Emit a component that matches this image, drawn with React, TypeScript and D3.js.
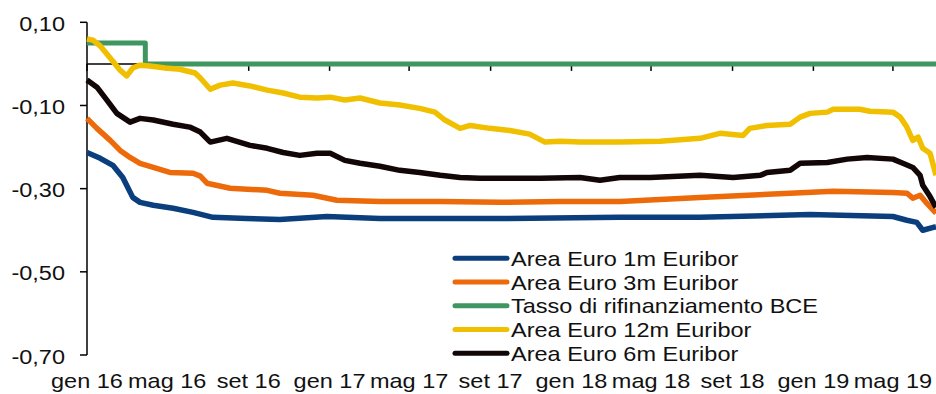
import React from "react";
import * as d3 from "d3";

type Pt = [string, number];

const euribor1m: Pt[] = [
  ["2016-01-01", -0.213], ["2016-01-21", -0.227], ["2016-02-09", -0.244], ["2016-02-24", -0.273],
  ["2016-03-10", -0.321], ["2016-03-21", -0.333], ["2016-04-10", -0.34], ["2016-05-10", -0.347],
  ["2016-06-09", -0.357], ["2016-07-09", -0.369], ["2016-08-29", -0.372], ["2016-10-18", -0.374],
  ["2016-12-28", -0.367], ["2017-03-18", -0.372], ["2017-09-15", -0.372], ["2018-03-15", -0.369],
  ["2018-07-14", -0.369], ["2018-12-27", -0.362], ["2019-05-01", -0.367], ["2019-05-22", -0.376],
  ["2019-06-06", -0.381], ["2019-06-15", -0.4], ["2019-07-01", -0.393], ["2019-07-05", -0.392],
];

const euribor3m: Pt[] = [
  ["2016-01-01", -0.131], ["2016-01-16", -0.155], ["2016-02-05", -0.184], ["2016-02-20", -0.208],
  ["2016-03-06", -0.225], ["2016-03-21", -0.239], ["2016-04-10", -0.249], ["2016-05-05", -0.261],
  ["2016-06-09", -0.263], ["2016-06-20", -0.27], ["2016-06-30", -0.287], ["2016-08-04", -0.299],
  ["2016-09-29", -0.304], ["2016-10-18", -0.311], ["2016-12-07", -0.316], ["2017-01-12", -0.328],
  ["2017-03-18", -0.331], ["2017-06-17", -0.331], ["2017-09-15", -0.333], ["2017-12-15", -0.331],
  ["2018-03-15", -0.331], ["2018-07-14", -0.321], ["2018-11-27", -0.311], ["2019-01-31", -0.306],
  ["2019-05-01", -0.309], ["2019-05-22", -0.311], ["2019-05-31", -0.323], ["2019-06-11", -0.316],
  ["2019-06-21", -0.335], ["2019-07-05", -0.359],
];

const tassoBCE: Pt[] = [
  ["2016-01-01", 0.05], ["2016-03-29", 0.0], ["2019-07-05", 0.0],
];

const euribor12m: Pt[] = [
  ["2016-01-01", 0.06], ["2016-01-10", 0.057], ["2016-01-21", 0.043], ["2016-02-05", 0.014],
  ["2016-02-20", -0.015], ["2016-03-01", -0.029], ["2016-03-10", -0.01], ["2016-03-21", -0.003],
  ["2016-04-05", -0.005], ["2016-04-28", -0.01], ["2016-05-20", -0.013], ["2016-06-12", -0.022],
  ["2016-06-20", -0.034], ["2016-07-05", -0.061], ["2016-07-20", -0.051], ["2016-08-08", -0.046],
  ["2016-09-03", -0.053], ["2016-09-29", -0.063], ["2016-10-23", -0.07], ["2016-11-17", -0.08],
  ["2016-12-13", -0.082], ["2017-01-02", -0.08], ["2017-01-24", -0.087], ["2017-02-16", -0.082],
  ["2017-03-18", -0.094], ["2017-04-17", -0.099], ["2017-05-17", -0.107], ["2017-06-09", -0.116],
  ["2017-06-24", -0.135], ["2017-07-17", -0.155], ["2017-08-01", -0.148], ["2017-08-31", -0.155],
  ["2017-09-30", -0.16], ["2017-10-30", -0.169], ["2017-11-22", -0.188], ["2017-12-15", -0.186],
  ["2018-01-14", -0.188], ["2018-03-15", -0.188], ["2018-05-15", -0.186], ["2018-07-14", -0.179],
  ["2018-08-13", -0.167], ["2018-09-17", -0.172], ["2018-09-27", -0.155], ["2018-10-23", -0.148],
  ["2018-11-27", -0.145], ["2018-12-12", -0.128], ["2018-12-27", -0.119], ["2019-01-22", -0.116],
  ["2019-01-31", -0.109], ["2019-03-12", -0.109], ["2019-03-27", -0.114], ["2019-05-01", -0.116],
  ["2019-05-12", -0.128], ["2019-05-22", -0.152], ["2019-05-31", -0.184], ["2019-06-08", -0.176],
  ["2019-06-15", -0.203], ["2019-06-26", -0.215], ["2019-07-05", -0.268],
];

const euribor6m: Pt[] = [
  ["2016-01-01", -0.039], ["2016-01-16", -0.056], ["2016-01-31", -0.087], ["2016-02-15", -0.119],
  ["2016-03-06", -0.14], ["2016-03-21", -0.131], ["2016-04-10", -0.135], ["2016-05-10", -0.145],
  ["2016-06-04", -0.152], ["2016-06-20", -0.164], ["2016-07-05", -0.188], ["2016-07-30", -0.179],
  ["2016-09-03", -0.196], ["2016-09-29", -0.203], ["2016-10-23", -0.213], ["2016-11-17", -0.22],
  ["2016-12-13", -0.215], ["2017-01-02", -0.215], ["2017-01-24", -0.232], ["2017-02-16", -0.239],
  ["2017-03-18", -0.246], ["2017-04-17", -0.256], ["2017-05-17", -0.261], ["2017-06-17", -0.268],
  ["2017-07-17", -0.273], ["2017-08-16", -0.275], ["2017-09-15", -0.275], ["2017-11-15", -0.275],
  ["2018-01-14", -0.273], ["2018-02-13", -0.28], ["2018-03-15", -0.273], ["2018-04-30", -0.273],
  ["2018-07-14", -0.268], ["2018-09-02", -0.273], ["2018-10-13", -0.268], ["2018-10-23", -0.261],
  ["2018-11-27", -0.256], ["2018-12-12", -0.239], ["2019-01-22", -0.237], ["2019-02-21", -0.229],
  ["2019-03-23", -0.225], ["2019-05-01", -0.229], ["2019-05-16", -0.239], ["2019-05-31", -0.249],
  ["2019-06-11", -0.268], ["2019-06-15", -0.292], ["2019-06-26", -0.319], ["2019-07-05", -0.345],
];

const seriesNames = [
  "Area Euro 1m Euribor",
  "Area Euro 3m Euribor",
  "Tasso di rifinanziamento BCE",
  "Area Euro 12m Euribor",
  "Area Euro 6m Euribor",
];
const seriesColors = ["#0b3e7d", "#ed6a0a", "#3f9660", "#f0c000", "#120606"];
const seriesData = [euribor1m, euribor3m, tassoBCE, euribor12m, euribor6m];

const yTicks = [0.1, -0.1, -0.3, -0.5, -0.7];
const yTickLabels = ["0,10", "-0,10", "-0,30", "-0,50", "-0,70"];
const xTickDates = [
  "2016-01-01", "2016-05-01", "2016-09-01", "2017-01-01", "2017-05-01", "2017-09-01",
  "2018-01-01", "2018-05-01", "2018-09-01", "2019-01-01", "2019-05-01",
];
const xTickLabels = [
  "gen 16", "mag 16", "set 16", "gen 17", "mag 17", "set 17",
  "gen 18", "mag 18", "set 18", "gen 19", "mag 19",
];

const W = 936;
const H = 394;
const FONT = "'Liberation Sans', Arial, sans-serif";
const FS = 21;
const SX = 1.12;

export default function App() {
  const parse = d3.utcParse("%Y-%m-%d");
  const x = d3
    .scaleUtc()
    .domain([parse("2016-01-01")!, parse("2019-07-05")!])
    .range([87, 936]);
  const y = d3.scaleLinear().domain([-0.7, 0.1]).range([355, 22.3]);

  const line = d3
    .line<Pt>()
    .x((d) => x(parse(d[0])!))
    .y((d) => y(d[1]));
  const stepLine = line.curve(d3.curveStepAfter);
  const normLine = d3
    .line<Pt>()
    .x((d) => x(parse(d[0])!))
    .y((d) => y(d[1]))
    .curve(d3.curveLinear);

  const y0 = y(0);

  return (
    <svg
      width={W}
      height={H}
      style={{ position: "fixed", left: 0, top: 0, background: "#fff" }}
      fontFamily={FONT}
    >
      <rect x={0} y={0} width={W} height={H} fill="#fff" />
      {/* zero line */}
      <line x1={87} x2={W} y1={y0} y2={y0} stroke="#000" strokeWidth={1.5} />
      {xTickDates.map((d, i) => {
        const xx = x(parse(d)!);
        return (
          <g key={d}>
            <line x1={xx} x2={xx} y1={y0} y2={y0 + 7} stroke="#000" strokeWidth={1.5} />
            <text
              transform={`translate(${xx},388) scale(${SX},1)`}
              textAnchor="middle"
              fontSize={FS}
              fill="#111"
            >
              {xTickLabels[i]}
            </text>
          </g>
        );
      })}
      {/* y axis */}
      <line x1={87} x2={87} y1={y(0.1)} y2={y(-0.7)} stroke="#000" strokeWidth={1.5} />
      {yTicks.map((t, i) => (
        <g key={t}>
          <line x1={80} x2={87} y1={y(t)} y2={y(t)} stroke="#000" strokeWidth={1.5} />
          <text
            transform={`translate(65,${y(t) + 8.5}) scale(${SX},1)`}
            textAnchor="end"
            fontSize={FS}
            fill="#111"
          >
            {yTickLabels[i]}
          </text>
        </g>
      ))}
      {seriesData.map((s, i) => (
        <path
          key={seriesNames[i]}
          d={(i === 2 ? stepLine : normLine)(s) || ""}
          fill="none"
          stroke={seriesColors[i]}
          strokeWidth={i === 2 ? 5 : 5.5}
          strokeLinejoin="round"
        />
      ))}
      {/* legend */}
      {seriesNames.map((n, i) => {
        const ry = 258.3 + i * 23.75;
        return (
          <g key={n}>
            <line x1={455} x2={507} y1={ry} y2={ry} stroke={seriesColors[i]} strokeWidth={5} strokeLinecap="round" />
            <text
              transform={`translate(511,${ry + 7.6}) scale(${SX},1)`}
              fontSize={FS}
              fill="#111"
            >
              {n}
            </text>
          </g>
        );
      })}
    </svg>
  );
}
